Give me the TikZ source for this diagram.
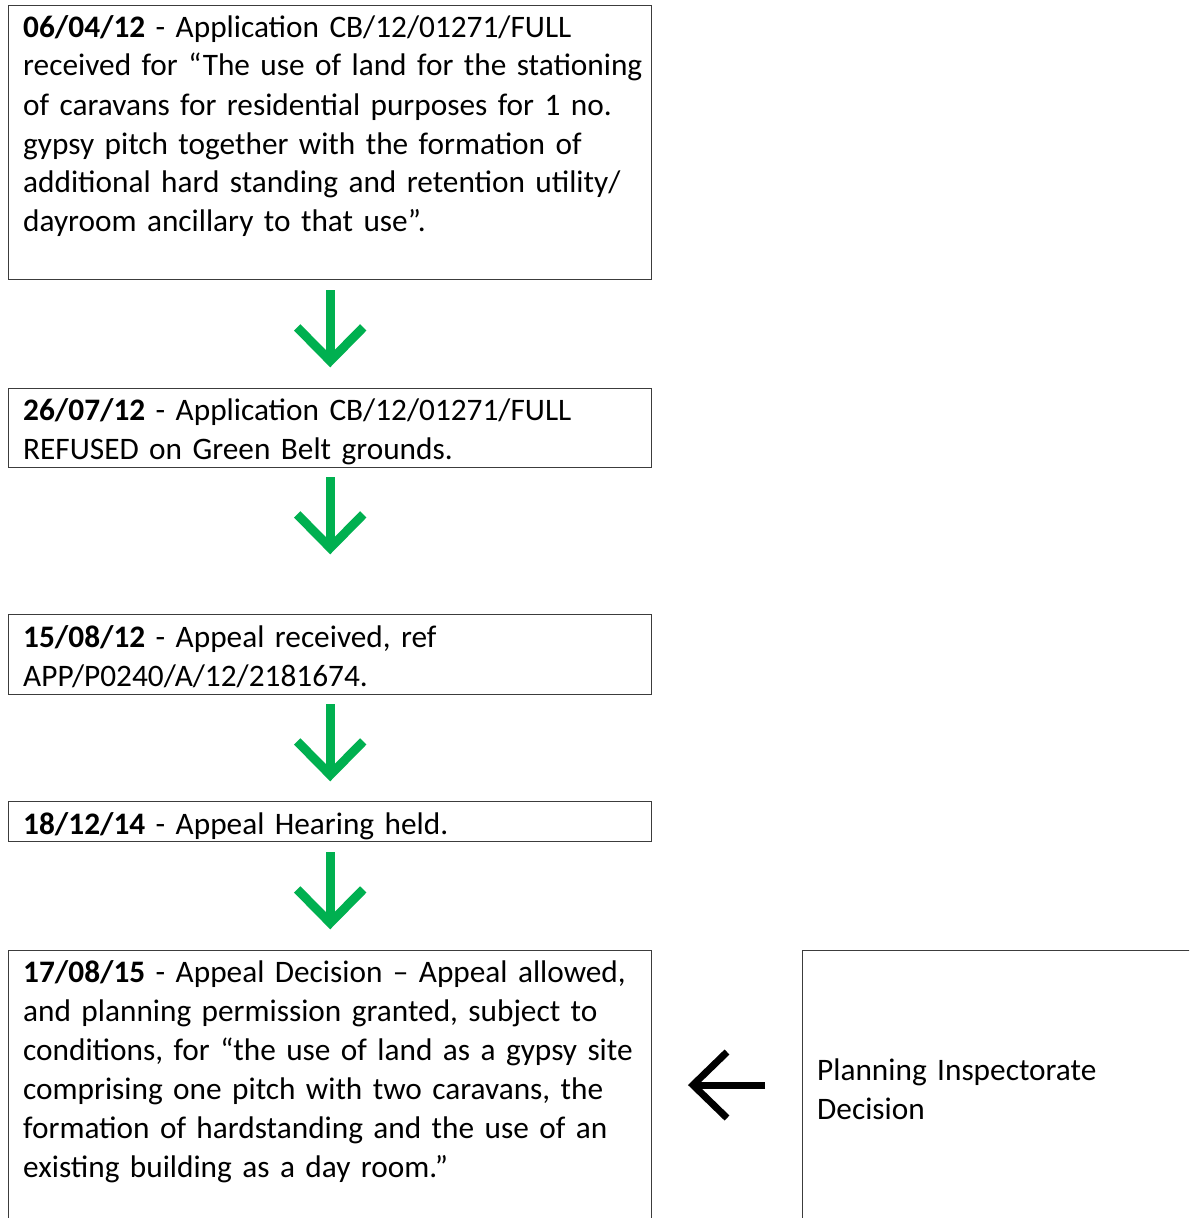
\documentclass[tikz,border=0pt]{standalone}
\usepackage{fontspec}
\setmainfont{Carlito}
\definecolor{arrowgreen}{RGB}{0,176,80}
\definecolor{boxline}{RGB}{60,60,60}
\newcommand\boxfont{\fontsize{31.3}{39}\selectfont}
\begin{document}
\begin{tikzpicture}[x=1pt,y=-1pt,
  box/.style={draw=boxline, line width=1.4pt, rectangle, inner sep=0pt, anchor=north west},
  txt/.style={inner sep=0pt, anchor=base west, align=left, text width=640pt, font=\boxfont},
  garrow/.style={draw=arrowgreen, line width=9pt, miter limit=10},
  karrow/.style={draw=black, line width=7pt, miter limit=10},
  down arrow/.pic={
    \draw[garrow] (0,0) -- (0,66);
    \draw[garrow] (-33,37) -- (0,70.5) -- (33,37);
  },
  left arrow/.pic={
    \draw[karrow] (0,0) -- (-68,0);
    \draw[karrow] (-38,-33) -- (-72,0) -- (-38,33);
  }]
\clip (0,0) rectangle (1189,1218);
\fill[white] (0,0) rectangle (1189,1218);

\node[box, minimum width=643pt, minimum height=274pt] (b1) at (8,5) {};
\node[txt] (t1) at ([xshift=15pt,yshift=-32pt]b1.north west)
  {\textbf{06/04/12} - Application CB/12/01271/FULL\\
   received for “The use of land for the stationing\\
   of caravans for residential purposes for 1 no.\\
   gypsy pitch together with the formation of\\
   additional hard standing and retention utility/\\
   dayroom ancillary to that use”.};

\node[box, minimum width=643pt, minimum height=79pt] (b2) at (8,388) {};
\node[txt] (t2) at ([xshift=15pt,yshift=-32pt]b2.north west)
  {\textbf{26/07/12} - Application CB/12/01271/FULL\\
   REFUSED on Green Belt grounds.};

\node[box, minimum width=643pt, minimum height=80pt] (b3) at (8,614) {};
\node[txt] (t3) at ([xshift=15pt,yshift=-33pt]b3.north west)
  {\textbf{15/08/12} - Appeal received, ref\\
   APP/P0240/A/12/2181674.};

\node[box, minimum width=643pt, minimum height=40pt] (b4) at (8,801) {};
\node[txt] (t4) at ([xshift=15pt,yshift=-33pt]b4.north west)
  {\textbf{18/12/14} - Appeal Hearing held.};

\node[box, minimum width=643pt, minimum height=300pt] (b5) at (8,950) {};
\node[txt] (t5) at ([xshift=15pt,yshift=-32pt]b5.north west)
  {\textbf{17/08/15} - Appeal Decision – Appeal allowed,\\
   and planning permission granted, subject to\\
   conditions, for “the use of land as a gypsy site\\
   comprising one pitch with two caravans, the\\
   formation of hardstanding and the use of an\\
   existing building as a day room.”};

\node[box, minimum width=420pt, minimum height=300pt] (b6) at (802,950) {};
\node[txt] (t6) at ([xshift=15pt,yshift=-130pt]b6.north west)
  {Planning Inspectorate\\Decision};

\pic at ([yshift=-10pt]b1.south) {down arrow};
\pic at ([yshift=-9pt]b2.south) {down arrow};
\pic at ([yshift=-9pt]b3.south) {down arrow};
\pic at ([yshift=-10pt]b4.south) {down arrow};
\coordinate (la) at ([xshift=-37pt,yshift=-135pt]b6.north west);
\pic at (la) {left arrow};
\end{tikzpicture}
\end{document}
